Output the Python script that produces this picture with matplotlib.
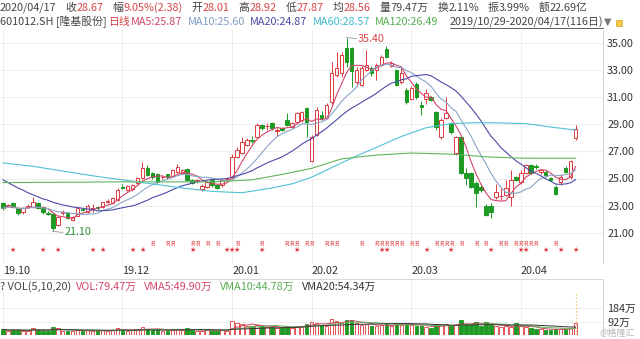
import matplotlib
matplotlib.use("Agg")
import matplotlib.pyplot as plt
import matplotlib.transforms as mtransforms
import numpy as np
import pandas as pd

plt.rcParams['font.family'] = ['Noto Sans CJK SC', 'DejaVu Sans']

# daily candles 2019/10/29 - 2020/04/17 (116 trading days)
opens = [23.2, 23.0, 23.2, 22.8, 22.5, 22.9, 22.9, 23.2, 22.9, 22.45,
         22.4, 21.55, 22.45, 22.45, 21.95, 22.25, 22.75, 22.5, 22.75, 22.9,
         22.9, 23.3, 23.2, 23.4, 24.4, 24.15, 24.2, 24.65, 25.0, 25.75,
         25.4, 25.3, 25.1, 25.3, 25.2, 25.5, 25.4, 25.7, 24.9, 24.85,
         24.2, 24.4, 24.9, 24.5, 24.5, 24.95, 25.1, 26.6, 26.9, 27.5,
         27.82, 28.05, 28.95, 28.85, 29.1, 28.5, 28.7, 29.3, 28.8, 29.2,
         29.3, 30.2, 26.3, 28.2, 29.7, 29.5, 30.65, 32.65, 32.8, 34.6,
         34.6, 32.1, 31.9, 33.0, 33.15, 33.0, 33.4, 34.55, 33.3, 33.0,
         32.1, 31.5, 30.9, 32.0, 30.4, 30.9, 31.0, 29.9, 28.05, 29.5,
         29.1, 26.9, 28.05, 25.4, 25.4, 24.7, 24.4, 23.0, 23.0, 23.6,
         23.7, 23.8, 23.6, 25.1, 24.75, 25.4, 26.0, 25.95, 25.5, 25.5,
         25.0, 24.4, 24.75, 25.75, 25.1, 28.01]
highs = [23.3, 23.1, 23.3, 22.9, 22.9, 23.1, 23.6, 23.3, 23.0, 22.6,
         22.5, 22.2, 22.7, 22.5, 22.2, 22.9, 22.8, 23.1, 23.1, 23.0,
         23.3, 23.5, 23.6, 24.3, 24.6, 24.5, 24.6, 25.1, 26.2, 26.0,
         25.5, 25.4, 25.2, 25.35, 25.7, 26.1, 25.7, 25.8, 25.0, 25.0,
         24.6, 24.8, 25.0, 24.6, 25.0, 25.1, 26.8, 27.3, 28.05, 28.0,
         28.1, 29.1, 29.05, 29.1, 29.2, 28.7, 28.8, 29.8, 29.2, 29.9,
         30.0, 30.3, 28.2, 30.3, 30.0, 30.6, 33.6, 34.3, 34.3, 35.40,
         34.7, 33.2, 33.3, 34.5, 33.3, 33.5, 34.1, 34.8, 33.7, 33.1,
         33.2, 31.7, 31.8, 32.1, 30.7, 31.6, 31.1, 30.0, 29.5, 31.0,
         29.2, 28.1, 28.1, 25.8, 25.5, 24.8, 24.6, 23.1, 23.2, 24.6,
         24.3, 24.9, 25.6, 25.2, 25.6, 26.1, 26.1, 26.1, 25.7, 25.6,
         25.1, 24.5, 25.3, 25.9, 26.4, 28.92]
lows = [22.7, 22.9, 22.8, 22.3, 22.4, 22.8, 22.85, 22.75, 22.4, 22.3,
        21.10, 21.5, 22.3, 22.0, 21.9, 22.2, 22.6, 22.45, 22.5, 22.7,
        22.85, 23.2, 23.1, 23.35, 24.2, 24.1, 24.1, 24.6, 24.95, 25.2,
        25.0, 24.7, 24.95, 25.0, 25.1, 25.4, 25.35, 24.85, 24.6, 24.7,
        24.1, 24.3, 24.4, 24.2, 24.4, 24.8, 25.0, 26.5, 26.8, 27.4,
        27.6, 28.0, 28.6, 28.6, 28.6, 28.1, 28.5, 28.9, 28.7, 29.1,
        29.2, 28.05, 26.2, 28.1, 29.3, 29.4, 30.5, 32.5, 32.5, 33.2,
        31.75, 31.8, 31.8, 32.9, 32.6, 32.3, 33.3, 33.9, 33.2, 31.8,
        32.0, 30.5, 30.8, 30.9, 29.7, 30.5, 30.7, 28.6, 27.9, 29.4,
        28.3, 26.7, 25.3, 24.5, 24.3, 22.9, 24.0, 22.2, 22.1, 23.5,
        23.4, 23.7, 23.0, 24.8, 24.6, 25.3, 25.3, 25.7, 25.3, 25.1,
        24.8, 23.8, 24.5, 25.4, 25.0, 27.87]
closes = [22.8, 23.02, 22.9, 22.45, 22.8, 22.95, 23.25, 22.8, 22.5, 22.4,
          21.35, 22.15, 22.5, 22.1, 22.15, 22.8, 22.7, 23.0, 22.78, 22.8,
          23.25, 23.35, 23.55, 24.15, 24.3, 24.45, 24.5, 25.0, 25.75, 25.25,
          25.1, 24.75, 25.12, 25.1, 25.6, 25.85, 25.6, 24.9, 24.65, 24.87,
          24.45, 24.75, 24.5, 24.3, 24.9, 24.97, 26.6, 27.1, 27.7, 27.85,
          27.8, 28.95, 28.7, 28.87, 28.7, 28.6, 28.6, 28.95, 29.1, 29.8,
          29.9, 29.2, 28.05, 30.05, 29.5, 30.4, 32.8, 33.15, 34.1, 33.6,
          32.9, 33.0, 33.15, 33.4, 32.8, 33.4, 34.0, 34.0, 33.5, 31.9,
          32.8, 30.65, 31.7, 31.0, 30.3, 31.3, 30.8, 28.8, 29.3, 29.8,
          28.4, 28.05, 25.4, 25.0, 24.4, 23.9, 24.15, 22.3, 22.5, 24.0,
          23.72, 24.3, 24.9, 24.9, 25.4, 26.0, 25.4, 25.85, 25.6, 25.25,
          24.9, 23.85, 25.1, 25.5, 26.29, 28.67]
# volume, 万手
volumes = [38, 30, 32, 35, 30, 28, 48, 35, 30, 28, 55, 45, 30, 28, 25, 35, 25, 32, 25, 26, 35, 28, 33, 45,
           35, 30, 32, 38, 55, 42, 35, 38, 28, 30, 36, 42, 35, 45, 32, 28, 30, 32, 30, 26, 34, 30,
           95, 80, 75, 62, 58, 70, 60, 52, 55, 48, 45, 62, 50, 58, 62, 78,
           92, 85, 65, 62, 110, 98, 85, 100, 105, 80, 70, 75, 58, 62, 70, 72, 60, 78, 66, 80,
           70, 62, 60, 55, 48, 72, 68, 75, 60, 70, 100, 75, 72, 88, 62, 90, 70, 60, 55, 58, 52, 80,
           60, 52, 45, 42, 38, 36, 37.3, 40, 42, 38, 50, 79.47]

ma20_head = [24.9, 24.7, 24.5, 24.3, 24.15, 23.95, 23.8, 23.65, 23.5, 23.4,
             23.25, 23.15, 23.05, 22.98, 22.9, 22.85, 22.8, 22.75, 22.72]
ma60_idx = [0, 6, 12, 18, 24, 30, 36, 42, 48, 54, 58, 62, 66, 70, 75, 80, 85, 90, 95, 100, 105, 110, 115]
ma60_val = [26.15, 25.9, 25.55, 25.2, 24.9, 24.6, 24.3, 24.05, 23.95, 24.3, 24.6, 25.1, 25.8,
            26.5, 27.3, 28.1, 28.75, 29.05, 29.12, 29.1, 29.05, 28.8, 28.57]
ma120_idx = [0, 24, 42, 50, 56, 62, 68, 75, 82, 90, 97, 104, 115]
ma120_val = [24.7, 24.75, 24.75, 24.9, 25.3, 25.75, 26.45, 26.73, 26.88, 26.8, 26.6, 26.5, 26.49]

r_idx = [30, 33, 34, 38, 39, 41, 43, 47, 52, 57, 58, 59, 61, 62, 65, 66, 67, 72, 75, 76, 77, 78,
         79, 80, 82, 83, 87, 88, 89, 90, 92, 95, 97, 100, 101, 103, 104, 105, 106, 107, 111]
star_idx = [2, 8, 11, 18, 20, 26, 28, 38, 45, 46, 47, 52, 59, 76, 77, 85, 90, 98, 104, 105, 109, 112, 115]

month_idx = [0, 24, 46, 62, 82, 104]
month_labels = ['19.10', '19.12', '20.01', '20.02', '20.03', '20.04']
price_ticks = [21, 23, 25, 27, 29, 31, 33, 35]
vol_ticks = [92, 184]
vol_tick_labels = ['92万', '184万']

RED = '#e0393e'
GREEN = '#1c9a23'
GRID = '#ebebeb'
W, H = 640, 339

o = np.array(opens); h = np.array(highs); l = np.array(lows); c = np.array(closes)
v = np.array(volumes)
n = len(c)
x = np.arange(n)
up = c >= o

ma5 = pd.Series(c).rolling(5, min_periods=1).mean()
ma10 = pd.Series(c).rolling(10, min_periods=1).mean()
ma20 = pd.Series(c).rolling(20).mean().values
ma20[:len(ma20_head)] = ma20_head

fig = plt.figure(figsize=(6.4, 3.39), dpi=100)

def px_axes(x0, y0, x1, y1):
    return fig.add_axes([x0 / W, (H - y1) / H, (x1 - x0) / W, (y1 - y0) / H])

# price panel
ax = px_axes(0, 30, 603, 263)
ax.set_xlim(-0.6, 120.5)
ax.set_ylim(35 - (263 - 43) / 13.55, 35 + 13 / 13.55)
cols = np.where(up, RED, GREEN)
ax.vlines(x, l, h, colors=cols, lw=0.7, zorder=2)
ax.bar(x, np.maximum(np.abs(c - o), 0.04), bottom=np.minimum(o, c), width=0.7,
       color=np.where(up, 'white', GREEN), edgecolor=cols, linewidth=0.7, zorder=3)
ax.plot(x, ma5, color='#d2476a', lw=0.8, zorder=4)
ax.plot(x, ma10, color='#8aa4c8', lw=0.8, zorder=4)
ax.plot(x, ma20, color='#4b4ba8', lw=0.8, zorder=4)
ax.plot(ma60_idx, ma60_val, color='#4fc1d4', lw=0.8, zorder=4)
ax.plot(ma120_idx, ma120_val, color='#62b45e', lw=0.8, zorder=4)

ax.plot([69, 71], [35.40, 35.33], color='#999999', lw=0.6)
ax.text(71.3, 35.33, '35.40', color='#d64545', fontsize=7.8, va='center')
ax.plot([10, 12], [21.10, 21.02], color='#999999', lw=0.6)
ax.text(12.3, 21.02, '21.10', color='#2f8f3a', fontsize=7.8, va='center')

for i in r_idx:
    ax.text(i, 20.17, 'R', color=RED, fontsize=5, ha='center', va='center')
for i in star_idx:
    ax.text(i, 19.72, '★', color=RED, fontsize=5, ha='center', va='center',
            family=['DejaVu Sans'])

ax.set_yticks(price_ticks)
ax.set_yticklabels(['%.2f' % t for t in price_ticks], fontsize=7.8, color='#333333')
ax.yaxis.tick_right()
ax.tick_params(axis='y', length=0, pad=3)
ax.set_xticks(month_idx)
ax.set_xticklabels([])
ax.tick_params(axis='x', length=0)
ax.grid(True, color=GRID, lw=0.6)
for s in ['top', 'left', 'bottom']:
    ax.spines[s].set_visible(False)
ax.spines['right'].set_color('#d0d0d0')
ax.spines['right'].set_linewidth(0.7)

# volume panel
axv = px_axes(0, 279, 603, 335)
axv.set_xlim(-0.6, 120.5)
axv.set_ylim(0, 56 / 13.5 * 92)
axv.bar(x, v, width=0.7, color=np.where(up, 'white', GREEN), edgecolor=cols, linewidth=0.6, zorder=3)
vs = pd.Series(v)
axv.plot(x, vs.rolling(5, min_periods=1).mean(), color='#c8405a', lw=0.7, zorder=4)
axv.plot(x, vs.rolling(10, min_periods=1).mean(), color='#62b45e', lw=0.7, zorder=4)
axv.plot(x, vs.rolling(20, min_periods=1).mean(), color='#333333', lw=0.7, zorder=4)
axv.vlines(n - 1, 0, 43 / 13.5 * 92, colors='#e6c25a', linestyles=':', lw=0.9, zorder=5)
axv.set_yticks(vol_ticks)
axv.set_yticklabels(vol_tick_labels, fontsize=7.8, color='#333333')
axv.yaxis.tick_right()
axv.tick_params(axis='y', length=0, pad=3)
axv.set_xticks(month_idx)
axv.set_xticklabels([])
axv.tick_params(axis='x', length=0)
axv.grid(True, color=GRID, lw=0.6)
for s in ['left', 'bottom']:
    axv.spines[s].set_visible(False)
axv.spines['right'].set_color('#d0d0d0')
axv.spines['right'].set_linewidth(0.7)
axv.spines['top'].set_color('#d8d8d8')
axv.spines['top'].set_linewidth(0.7)

# text
renderer = fig.canvas.get_renderer()
ident = mtransforms.IdentityTransform()

def put(xp, yp, s, color, size=7.8, **kw):
    t = fig.text(xp, H - yp, s, color=color, fontsize=size, transform=ident, va='center', **kw)
    return xp + t.get_window_extent(renderer).width

for i, lab in zip(month_idx, month_labels):
    put(3 + 4.98 * i, 271, lab, '#333333')

GRAY = '#444444'
VAL = '#d64545'
xp = put(0, 8, '2020/04/17', GRAY) + 9
for lab, val, vc in [('收', '28.67', VAL), ('幅', '9.05%(2.38)', VAL), ('开', '28.01', VAL),
                     ('高', '28.92', VAL), ('低', '27.87', VAL), ('均', '28.56', VAL),
                     ('量', '79.47万', GRAY), ('换', '2.11%', GRAY), ('振', '3.99%', GRAY),
                     ('额', '22.69亿', GRAY)]:
    xp = put(xp, 8, lab, GRAY)
    xp = put(xp, 8, val, vc) + 9

xp = put(0, 22, '601012.SH [隆基股份]', GRAY) + 1
xp = put(xp, 22, '日线', VAL) + 2
for s, col in [('MA5:25.87', '#d2476a'), ('MA10:25.60', '#7f9cc4'), ('MA20:24.87', '#4b4ba8'),
               ('MA60:28.57', '#3fbcd0'), ('MA120:26.49', '#55ad52')]:
    xp = put(xp, 22, s, col) + 5
x0 = max(442, xp + 6)
xe = put(x0, 22, '2019/10/29-2020/04/17(116日)', GRAY)
fig.add_artist(plt.Line2D([x0, xe], [H - 28, H - 28], color=GRAY, lw=0.6, transform=ident))
xe = put(xe + 1, 22, '▼', '#777777', size=7, family=['DejaVu Sans'])
fig.add_artist(plt.Rectangle((xe + 4, H - 26), 6, 6, facecolor='#f2c744', edgecolor='#d9a520',
                             lw=0.5, transform=ident))

xp = put(0, 287, '? VOL(5,10,20)', GRAY) + 5
for s, col in [('VOL:79.47万', '#d2476a'), ('VMA5:49.90万', '#d2476a'),
               ('VMA10:44.78万', '#55ad52'), ('VMA20:54.34万', '#333333')]:
    xp = put(xp, 287, s, col) + 7
put(600, 333, '@格隆汇', '#b8b8b8', size=6.5)

fig.savefig('out.png', dpi=100)
